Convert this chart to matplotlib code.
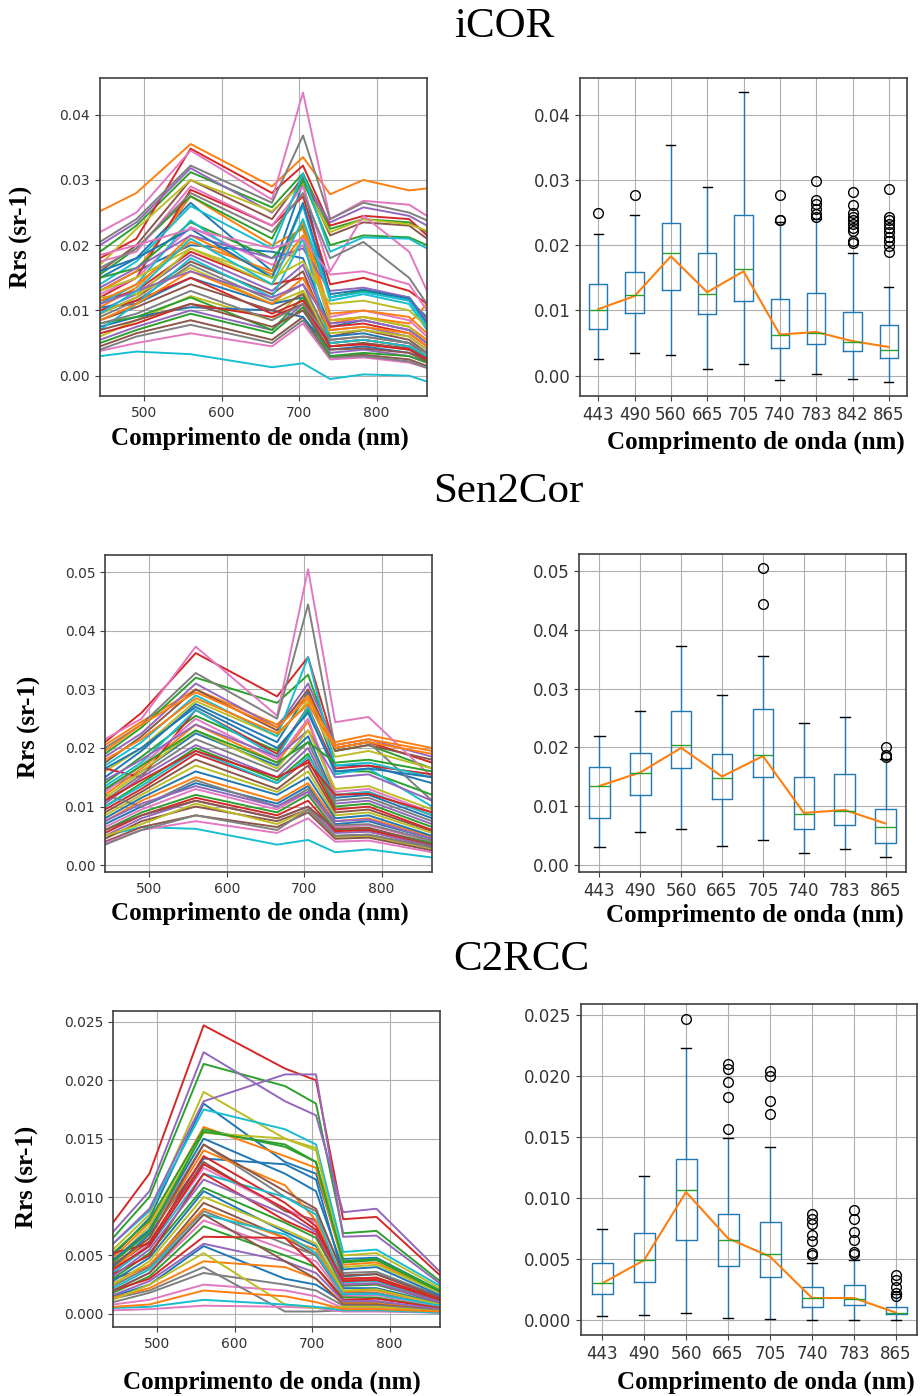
import matplotlib
matplotlib.use('Agg')
from matplotlib import pyplot as plt

# Bandas (nm)
bandas_icor = [443, 490, 560, 665, 705, 740, 783, 842, 865]
bandas_8 = [443, 490, 560, 665, 705, 740, 783, 865]

# Espectros Rrs (sr-1) - iCOR
icor_rrs = [
    [0.0150, 0.0180, 0.0265, 0.0160, 0.0295, 0.0120, 0.0130, 0.0115, 0.0090],
    [0.0252, 0.0280, 0.0355, 0.0290, 0.0335, 0.0278, 0.0300, 0.0284, 0.0287],
    [0.0190, 0.0230, 0.0312, 0.0258, 0.0310, 0.0225, 0.0240, 0.0235, 0.0220],
    [0.0180, 0.0210, 0.0348, 0.0280, 0.0322, 0.0230, 0.0245, 0.0240, 0.0215],
    [0.0200, 0.0235, 0.0318, 0.0250, 0.0300, 0.0235, 0.0258, 0.0245, 0.0230],
    [0.0160, 0.0200, 0.0300, 0.0240, 0.0305, 0.0215, 0.0235, 0.0230, 0.0210],
    [0.0220, 0.0250, 0.0345, 0.0270, 0.0434, 0.0240, 0.0268, 0.0262, 0.0245],
    [0.0205, 0.0240, 0.0322, 0.0265, 0.0368, 0.0240, 0.0265, 0.0250, 0.0238],
    [0.0170, 0.0225, 0.0300, 0.0252, 0.0295, 0.0220, 0.0240, 0.0232, 0.0222],
    [0.0030, 0.0037, 0.0033, 0.0013, 0.0019, -0.0005, 0.0002, 0.0000, -0.0009],
    [0.0130, 0.0160, 0.0200, 0.0190, 0.0180, 0.0075, 0.0085, 0.0070, 0.0050],
    [0.0130, 0.0160, 0.0275, 0.0200, 0.0225, 0.0085, 0.0090, 0.0080, 0.0110],
    [0.0155, 0.0195, 0.0275, 0.0210, 0.0300, 0.0200, 0.0215, 0.0212, 0.0200],
    [0.0120, 0.0150, 0.0285, 0.0230, 0.0275, 0.0140, 0.0150, 0.0130, 0.0110],
    [0.0100, 0.0125, 0.0185, 0.0130, 0.0170, 0.0070, 0.0075, 0.0060, 0.0040],
    [0.0095, 0.0120, 0.0175, 0.0125, 0.0160, 0.0060, 0.0070, 0.0055, 0.0035],
    [0.0175, 0.0190, 0.0290, 0.0230, 0.0290, 0.0160, 0.0245, 0.0190, 0.0130],
    [0.0165, 0.0195, 0.0280, 0.0220, 0.0280, 0.0180, 0.0205, 0.0150, 0.0110],
    [0.0120, 0.0125, 0.0165, 0.0110, 0.0130, 0.0065, 0.0070, 0.0060, 0.0040],
    [0.0140, 0.0175, 0.0260, 0.0195, 0.0310, 0.0190, 0.0212, 0.0210, 0.0195],
    [0.0105, 0.0110, 0.0150, 0.0110, 0.0120, 0.0060, 0.0065, 0.0050, 0.0035],
    [0.0105, 0.0135, 0.0215, 0.0155, 0.0215, 0.0080, 0.0090, 0.0075, 0.0055],
    [0.0150, 0.0165, 0.0235, 0.0180, 0.0230, 0.0120, 0.0130, 0.0120, 0.0085],
    [0.0115, 0.0130, 0.0190, 0.0140, 0.0150, 0.0075, 0.0080, 0.0065, 0.0045],
    [0.0055, 0.0075, 0.0100, 0.0070, 0.0110, 0.0035, 0.0040, 0.0030, 0.0020],
    [0.0045, 0.0065, 0.0085, 0.0055, 0.0090, 0.0030, 0.0032, 0.0025, 0.0015],
    [0.0125, 0.0150, 0.0228, 0.0170, 0.0200, 0.0090, 0.0100, 0.0085, 0.0060],
    [0.0090, 0.0115, 0.0170, 0.0115, 0.0140, 0.0055, 0.0060, 0.0050, 0.0030],
    [0.0060, 0.0085, 0.0122, 0.0085, 0.0130, 0.0050, 0.0055, 0.0045, 0.0030],
    [0.0110, 0.0140, 0.0238, 0.0150, 0.0260, 0.0115, 0.0125, 0.0110, 0.0070],
    [0.0075, 0.0090, 0.0105, 0.0100, 0.0090, 0.0040, 0.0045, 0.0035, 0.0025],
    [0.0115, 0.0140, 0.0205, 0.0160, 0.0235, 0.0095, 0.0100, 0.0090, 0.0065],
    [0.0080, 0.0090, 0.0120, 0.0070, 0.0120, 0.0045, 0.0050, 0.0040, 0.0025],
    [0.0100, 0.0115, 0.0150, 0.0095, 0.0115, 0.0050, 0.0055, 0.0045, 0.0030],
    [0.0135, 0.0165, 0.0215, 0.0180, 0.0195, 0.0130, 0.0135, 0.0120, 0.0085],
    [0.0085, 0.0105, 0.0140, 0.0100, 0.0125, 0.0045, 0.0050, 0.0042, 0.0028],
    [0.0038, 0.0050, 0.0065, 0.0045, 0.0080, 0.0025, 0.0028, 0.0020, 0.0012],
    [0.0040, 0.0060, 0.0078, 0.0050, 0.0085, 0.0028, 0.0030, 0.0022, 0.0012],
    [0.0095, 0.0120, 0.0195, 0.0140, 0.0210, 0.0085, 0.0090, 0.0075, 0.0050],
    [0.0070, 0.0110, 0.0180, 0.0120, 0.0210, 0.0050, 0.0055, 0.0045, 0.0030],
    [0.0160, 0.0180, 0.0225, 0.0150, 0.0265, 0.0125, 0.0132, 0.0118, 0.0080],
    [0.0085, 0.0110, 0.0160, 0.0110, 0.0150, 0.0070, 0.0075, 0.0065, 0.0045],
    [0.0050, 0.0070, 0.0095, 0.0065, 0.0105, 0.0030, 0.0035, 0.0030, 0.0020],
    [0.0065, 0.0080, 0.0110, 0.0090, 0.0110, 0.0045, 0.0048, 0.0040, 0.0025],
    [0.0110, 0.0130, 0.0160, 0.0120, 0.0140, 0.0080, 0.0085, 0.0070, 0.0050],
    [0.0070, 0.0085, 0.0110, 0.0075, 0.0100, 0.0040, 0.0042, 0.0035, 0.0022],
    [0.0185, 0.0200, 0.0225, 0.0195, 0.0210, 0.0155, 0.0160, 0.0140, 0.0100],
    [0.0080, 0.0095, 0.0130, 0.0085, 0.0110, 0.0055, 0.0060, 0.0050, 0.0035],
    [0.0130, 0.0150, 0.0195, 0.0150, 0.0175, 0.0110, 0.0115, 0.0100, 0.0075],
    [0.0095, 0.0130, 0.0210, 0.0140, 0.0240, 0.0120, 0.0128, 0.0115, 0.0075],
]

# Sen2Cor
sen2cor_rrs = [
    [0.0150, 0.0195, 0.0275, 0.0210, 0.0295, 0.0170, 0.0170, 0.0140],
    [0.0205, 0.0245, 0.0300, 0.0240, 0.0290, 0.0210, 0.0222, 0.0200],
    [0.0190, 0.0235, 0.0320, 0.0277, 0.0325, 0.0195, 0.0205, 0.0165],
    [0.0210, 0.0260, 0.0362, 0.0288, 0.0355, 0.0200, 0.0210, 0.0175],
    [0.0185, 0.0225, 0.0310, 0.0235, 0.0310, 0.0205, 0.0215, 0.0185],
    [0.0175, 0.0220, 0.0300, 0.0230, 0.0300, 0.0195, 0.0205, 0.0180],
    [0.0215, 0.0250, 0.0373, 0.0255, 0.0505, 0.0244, 0.0253, 0.0150],
    [0.0200, 0.0240, 0.0328, 0.0250, 0.0445, 0.0200, 0.0210, 0.0110],
    [0.0160, 0.0200, 0.0280, 0.0220, 0.0280, 0.0185, 0.0195, 0.0165],
    [0.0050, 0.0065, 0.0062, 0.0035, 0.0043, 0.0022, 0.0027, 0.0013],
    [0.0130, 0.0160, 0.0225, 0.0170, 0.0220, 0.0115, 0.0120, 0.0080],
    [0.0120, 0.0165, 0.0240, 0.0175, 0.0245, 0.0120, 0.0125, 0.0085],
    [0.0140, 0.0185, 0.0255, 0.0195, 0.0265, 0.0160, 0.0160, 0.0120],
    [0.0165, 0.0150, 0.0265, 0.0190, 0.0270, 0.0165, 0.0170, 0.0155],
    [0.0105, 0.0150, 0.0205, 0.0150, 0.0200, 0.0105, 0.0110, 0.0070],
    [0.0090, 0.0125, 0.0180, 0.0130, 0.0170, 0.0090, 0.0095, 0.0058],
    [0.0125, 0.0170, 0.0250, 0.0180, 0.0250, 0.0125, 0.0130, 0.0090],
    [0.0110, 0.0155, 0.0215, 0.0160, 0.0210, 0.0110, 0.0115, 0.0075],
    [0.0085, 0.0120, 0.0170, 0.0125, 0.0160, 0.0085, 0.0090, 0.0055],
    [0.0170, 0.0210, 0.0290, 0.0220, 0.0355, 0.0170, 0.0175, 0.0150],
    [0.0070, 0.0100, 0.0140, 0.0105, 0.0135, 0.0070, 0.0075, 0.0045],
    [0.0075, 0.0110, 0.0150, 0.0110, 0.0140, 0.0075, 0.0080, 0.0048],
    [0.0100, 0.0140, 0.0200, 0.0145, 0.0190, 0.0100, 0.0105, 0.0065],
    [0.0095, 0.0130, 0.0190, 0.0140, 0.0180, 0.0095, 0.0100, 0.0060],
    [0.0050, 0.0080, 0.0110, 0.0080, 0.0100, 0.0055, 0.0057, 0.0032],
    [0.0045, 0.0075, 0.0100, 0.0075, 0.0095, 0.0050, 0.0052, 0.0030],
    [0.0065, 0.0095, 0.0130, 0.0095, 0.0125, 0.0065, 0.0068, 0.0040],
    [0.0120, 0.0100, 0.0145, 0.0100, 0.0130, 0.0068, 0.0070, 0.0042],
    [0.0050, 0.0070, 0.0105, 0.0070, 0.0095, 0.0048, 0.0050, 0.0028],
    [0.0135, 0.0175, 0.0265, 0.0185, 0.0270, 0.0155, 0.0165, 0.0100],
    [0.0080, 0.0115, 0.0160, 0.0120, 0.0150, 0.0080, 0.0085, 0.0050],
    [0.0195, 0.0240, 0.0295, 0.0235, 0.0285, 0.0205, 0.0215, 0.0195],
    [0.0060, 0.0090, 0.0120, 0.0090, 0.0120, 0.0060, 0.0062, 0.0038],
    [0.0055, 0.0085, 0.0115, 0.0085, 0.0110, 0.0058, 0.0060, 0.0035],
    [0.0145, 0.0180, 0.0240, 0.0185, 0.0230, 0.0150, 0.0155, 0.0110],
    [0.0040, 0.0065, 0.0085, 0.0065, 0.0090, 0.0045, 0.0047, 0.0025],
    [0.0038, 0.0060, 0.0075, 0.0055, 0.0080, 0.0040, 0.0042, 0.0022],
    [0.0035, 0.0060, 0.0085, 0.0060, 0.0095, 0.0050, 0.0052, 0.0030],
    [0.0115, 0.0160, 0.0230, 0.0165, 0.0230, 0.0130, 0.0135, 0.0095],
    [0.0100, 0.0135, 0.0195, 0.0140, 0.0185, 0.0120, 0.0125, 0.0085],
    [0.0165, 0.0200, 0.0270, 0.0200, 0.0260, 0.0160, 0.0165, 0.0150],
    [0.0180, 0.0215, 0.0285, 0.0225, 0.0275, 0.0200, 0.0210, 0.0190],
    [0.0130, 0.0170, 0.0230, 0.0175, 0.0210, 0.0175, 0.0180, 0.0160],
    [0.0110, 0.0145, 0.0195, 0.0150, 0.0175, 0.0120, 0.0122, 0.0090],
    [0.0075, 0.0105, 0.0135, 0.0100, 0.0125, 0.0075, 0.0078, 0.0045],
    [0.0060, 0.0085, 0.0110, 0.0080, 0.0100, 0.0062, 0.0064, 0.0035],
]

# C2RCC
c2rcc_rrs = [
    [0.0050, 0.0082, 0.0180, 0.0130, 0.0120, 0.0047, 0.0048, 0.0020],
    [0.0048, 0.0078, 0.0160, 0.0135, 0.0125, 0.0042, 0.0044, 0.0018],
    [0.0065, 0.0100, 0.0214, 0.0195, 0.0180, 0.0069, 0.0071, 0.0028],
    [0.0078, 0.0120, 0.0247, 0.0210, 0.0200, 0.0081, 0.0083, 0.0033],
    [0.0070, 0.0105, 0.0224, 0.0182, 0.0170, 0.0087, 0.0090, 0.0036],
    [0.0040, 0.0062, 0.0130, 0.0088, 0.0080, 0.0029, 0.0030, 0.0012],
    [0.0036, 0.0060, 0.0125, 0.0090, 0.0078, 0.0028, 0.0029, 0.0012],
    [0.0045, 0.0070, 0.0145, 0.0100, 0.0088, 0.0035, 0.0036, 0.0015],
    [0.0055, 0.0085, 0.0190, 0.0150, 0.0140, 0.0050, 0.0052, 0.0022],
    [0.0060, 0.0088, 0.0175, 0.0158, 0.0145, 0.0053, 0.0055, 0.0024],
    [0.0040, 0.0068, 0.0133, 0.0128, 0.0115, 0.0032, 0.0034, 0.0014],
    [0.0038, 0.0065, 0.0140, 0.0110, 0.0080, 0.0030, 0.0031, 0.0013],
    [0.0052, 0.0080, 0.0158, 0.0143, 0.0130, 0.0045, 0.0047, 0.0020],
    [0.0052, 0.0060, 0.0135, 0.0095, 0.0075, 0.0030, 0.0031, 0.0013],
    [0.0060, 0.0090, 0.0182, 0.0205, 0.0205, 0.0066, 0.0067, 0.0026],
    [0.0030, 0.0040, 0.0095, 0.0065, 0.0050, 0.0016, 0.0017, 0.0006],
    [0.0020, 0.0035, 0.0080, 0.0055, 0.0045, 0.0015, 0.0016, 0.0006],
    [0.0024, 0.0040, 0.0088, 0.0060, 0.0050, 0.0018, 0.0018, 0.0007],
    [0.0045, 0.0075, 0.0155, 0.0150, 0.0142, 0.0040, 0.0042, 0.0018],
    [0.0035, 0.0058, 0.0120, 0.0100, 0.0085, 0.0027, 0.0028, 0.0011],
    [0.0028, 0.0048, 0.0105, 0.0070, 0.0058, 0.0022, 0.0022, 0.0009],
    [0.0026, 0.0042, 0.0090, 0.0065, 0.0055, 0.0019, 0.0020, 0.0008],
    [0.0030, 0.0052, 0.0108, 0.0078, 0.0065, 0.0024, 0.0025, 0.0010],
    [0.0034, 0.0050, 0.0120, 0.0080, 0.0068, 0.0025, 0.0026, 0.0010],
    [0.0032, 0.0055, 0.0115, 0.0085, 0.0070, 0.0025, 0.0026, 0.0010],
    [0.0042, 0.0065, 0.0145, 0.0105, 0.0090, 0.0033, 0.0034, 0.0014],
    [0.0008, 0.0012, 0.0025, 0.0020, 0.0015, 0.0005, 0.0005, 0.0002],
    [0.0013, 0.0020, 0.0040, 0.0002, 0.0002, 0.0003, 0.0003, 0.0001],
    [0.0025, 0.0045, 0.0100, 0.0072, 0.0060, 0.0020, 0.0021, 0.0008],
    [0.0022, 0.0038, 0.0085, 0.0068, 0.0052, 0.0017, 0.0017, 0.0007],
    [0.0015, 0.0025, 0.0058, 0.0030, 0.0025, 0.0010, 0.0010, 0.0004],
    [0.0014, 0.0022, 0.0045, 0.0040, 0.0030, 0.0009, 0.0009, 0.0003],
    [0.0018, 0.0032, 0.0075, 0.0050, 0.0040, 0.0014, 0.0014, 0.0005],
    [0.0020, 0.0030, 0.0066, 0.0065, 0.0040, 0.0012, 0.0013, 0.0005],
    [0.0016, 0.0028, 0.0060, 0.0045, 0.0035, 0.0011, 0.0011, 0.0004],
    [0.0020, 0.0035, 0.0085, 0.0045, 0.0030, 0.0008, 0.0008, 0.0003],
    [0.0003, 0.0004, 0.0007, 0.0006, 0.0005, 0.0002, 0.0002, 0.0001],
    [0.0010, 0.0018, 0.0035, 0.0025, 0.0020, 0.0007, 0.0007, 0.0003],
    [0.0012, 0.0025, 0.0052, 0.0008, 0.0005, 0.0006, 0.0006, 0.0002],
    [0.0005, 0.0006, 0.0012, 0.0008, 0.0006, 0.0003, 0.0003, 0.0001],
    [0.0046, 0.0072, 0.0150, 0.0120, 0.0105, 0.0038, 0.0040, 0.0016],
    [0.0006, 0.0008, 0.0020, 0.0015, 0.0010, 0.0004, 0.0004, 0.0002],
    [0.0044, 0.0070, 0.0156, 0.0145, 0.0130, 0.0044, 0.0046, 0.0019],
    [0.0038, 0.0058, 0.0128, 0.0090, 0.0072, 0.0028, 0.0029, 0.0012],
]

# Estatisticas dos boxplots
icor_min = [0.0026, 0.0035, 0.0032, 0.0011, 0.0018, -0.0007, 0.0003, -0.0005, -0.0009]
icor_q1 = [0.0071, 0.0096, 0.0132, 0.0094, 0.0114, 0.0042, 0.0049, 0.0038, 0.0027]
icor_med = [0.0100, 0.0123, 0.0188, 0.0125, 0.0163, 0.0062, 0.0066, 0.0052, 0.0040]
icor_q3 = [0.0140, 0.0159, 0.0234, 0.0188, 0.0246, 0.0118, 0.0127, 0.0098, 0.0077]
icor_max = [0.0217, 0.0246, 0.0353, 0.0289, 0.0434, 0.0236, 0.0240, 0.0188, 0.0136]
icor_out = [[0.0250], [0.0277], [], [], [],
            [0.0277, 0.0239, 0.0238],
            [0.0299, 0.0269, 0.0263, 0.0255, 0.0248, 0.0243],
            [0.0281, 0.0262, 0.0249, 0.0243, 0.0238, 0.0233, 0.0227, 0.0222, 0.0207, 0.0204],
            [0.0286, 0.0243, 0.0238, 0.0233, 0.0227, 0.0220, 0.0212, 0.0206, 0.0199, 0.0189]]
icor_media = [0.0102, 0.0122, 0.0183, 0.0128, 0.0160, 0.0063, 0.0067, 0.0053, 0.0044]

s2_min = [0.0030, 0.0055, 0.0060, 0.0032, 0.0041, 0.0020, 0.0027, 0.0012]
s2_q1 = [0.0080, 0.0119, 0.0165, 0.0112, 0.0149, 0.0061, 0.0067, 0.0037]
s2_med = [0.0134, 0.0156, 0.0203, 0.0147, 0.0186, 0.0087, 0.0091, 0.0064]
s2_q3 = [0.0166, 0.0191, 0.0261, 0.0188, 0.0265, 0.0149, 0.0154, 0.0094]
s2_max = [0.0219, 0.0262, 0.0373, 0.0289, 0.0356, 0.0241, 0.0251, 0.0180]
s2_out = [[], [], [], [], [0.0505, 0.0445], [], [], [0.0201, 0.0186, 0.0184]]
s2_media = [0.0134, 0.0157, 0.0199, 0.0150, 0.0185, 0.0088, 0.0093, 0.0070]

c2_min = [0.0003, 0.0004, 0.0006, 0.0002, 0.0001, 0.0000, 0.0000, 0.0000]
c2_q1 = [0.0021, 0.0031, 0.0066, 0.0044, 0.0035, 0.0011, 0.0012, 0.0005]
c2_med = [0.0030, 0.0049, 0.0107, 0.0066, 0.0054, 0.0018, 0.0017, 0.0006]
c2_q3 = [0.0047, 0.0071, 0.0132, 0.0087, 0.0080, 0.0027, 0.0029, 0.0011]
c2_max = [0.0075, 0.0118, 0.0223, 0.0149, 0.0142, 0.0047, 0.0049, 0.0021]
c2_out = [[], [], [0.0247],
          [0.0210, 0.0206, 0.0195, 0.0183, 0.0157],
          [0.0204, 0.0200, 0.0180, 0.0169],
          [0.0087, 0.0083, 0.0079, 0.0070, 0.0065, 0.0055, 0.0053],
          [0.0090, 0.0083, 0.0072, 0.0066, 0.0056, 0.0054],
          [0.0037, 0.0033, 0.0027, 0.0022, 0.0020]]
c2_media = [0.0030, 0.0049, 0.0105, 0.0067, 0.0052, 0.0018, 0.0018, 0.0006]

fonte_serif = 'Liberation Serif'


def espectros(ax, bandas, dados, ylab_pos):
    for r in dados:
        ax.plot(bandas, r, lw=1.4)
    ax.set_xlim(bandas[0], bandas[-1])
    ax.set_xticks([500, 600, 700, 800])
    ax.grid(True)
    ax.tick_params(labelsize=10, colors='0.25', labelcolor='0.2')
    ax.set_ylabel('Rrs (sr-1)', family=fonte_serif, fontweight='bold', fontsize=18)
    ax.yaxis.set_label_coords(*ylab_pos)
    ax.yaxis.label.set_va('center')


def caixas(ax, bandas, lo, q1, med, q3, hi, out, media):
    n = len(bandas)
    stats = []
    for i in range(n):
        stats.append(dict(label=str(bandas[i]), whislo=lo[i], q1=q1[i], med=med[i],
                          q3=q3[i], whishi=hi[i], fliers=out[i]))
    pos = list(range(1, n + 1))
    ax.bxp(stats, positions=pos, widths=0.5,
           boxprops=dict(color='C0'), whiskerprops=dict(color='C0'),
           capprops=dict(color='k'), medianprops=dict(color='C2'),
           flierprops=dict(marker='o', markerfacecolor='none', markeredgecolor='k',
                           markersize=7))
    ax.plot(pos, media, color='C1', lw=1.5)
    ax.grid(True)
    ax.tick_params(labelsize=12, colors='0.25', labelcolor='0.2')


def xlabel(ax, x, y):
    ax.set_xlabel('Comprimento de onda (nm)', family=fonte_serif, fontweight='bold', fontsize=18)
    ax.xaxis.set_label_coords(x, y)
    ax.xaxis.label.set_va('center')


fig = plt.figure(figsize=(9.23, 13.96), dpi=100)

ax1 = fig.add_axes([0.1083, 0.7163, 0.3543, 0.2278])
ax2 = fig.add_axes([0.6284, 0.7163, 0.3543, 0.2278])
ax3 = fig.add_axes([0.1138, 0.3754, 0.3543, 0.2271])
ax4 = fig.add_axes([0.6273, 0.3754, 0.3543, 0.2278])
ax5 = fig.add_axes([0.1224, 0.0494, 0.3543, 0.2264])
ax6 = fig.add_axes([0.6295, 0.0437, 0.3640, 0.2371])

espectros(ax1, bandas_icor, icor_rrs, (-0.24, 0.5))
caixas(ax2, bandas_icor, icor_min, icor_q1, icor_med, icor_q3, icor_max, icor_out, icor_media)
espectros(ax3, bandas_8, sen2cor_rrs, (-0.23, 0.457))
caixas(ax4, bandas_8, s2_min, s2_q1, s2_med, s2_q3, s2_max, s2_out, s2_media)
espectros(ax5, bandas_8, c2rcc_rrs, (-0.26, 0.475))
caixas(ax6, bandas_8, c2_min, c2_q1, c2_med, c2_q3, c2_max, c2_out, c2_media)

xlabel(ax1, 0.49, -0.132)
xlabel(ax2, 0.538, -0.145)
xlabel(ax3, 0.474, -0.129)
xlabel(ax4, 0.538, -0.135)
xlabel(ax5, 0.486, -0.174)
xlabel(ax6, 0.55, -0.142)

for ax in [ax1, ax2, ax3, ax4, ax5, ax6]:
    for s in ax.spines.values():
        s.set_color('0.25')
        s.set_linewidth(1.2)

fig.text(504 / 923, 1 - 27 / 1396, 'iCOR', family=fonte_serif, fontsize=31, ha='center', va='center')
fig.text(508 / 923, 1 - 492 / 1396, 'Sen2Cor', family=fonte_serif, fontsize=31, ha='center', va='center')
fig.text(521 / 923, 1 - 960 / 1396, 'C2RCC', family=fonte_serif, fontsize=31, ha='center', va='center')

fig.savefig('out.png', dpi=100, facecolor='white')
